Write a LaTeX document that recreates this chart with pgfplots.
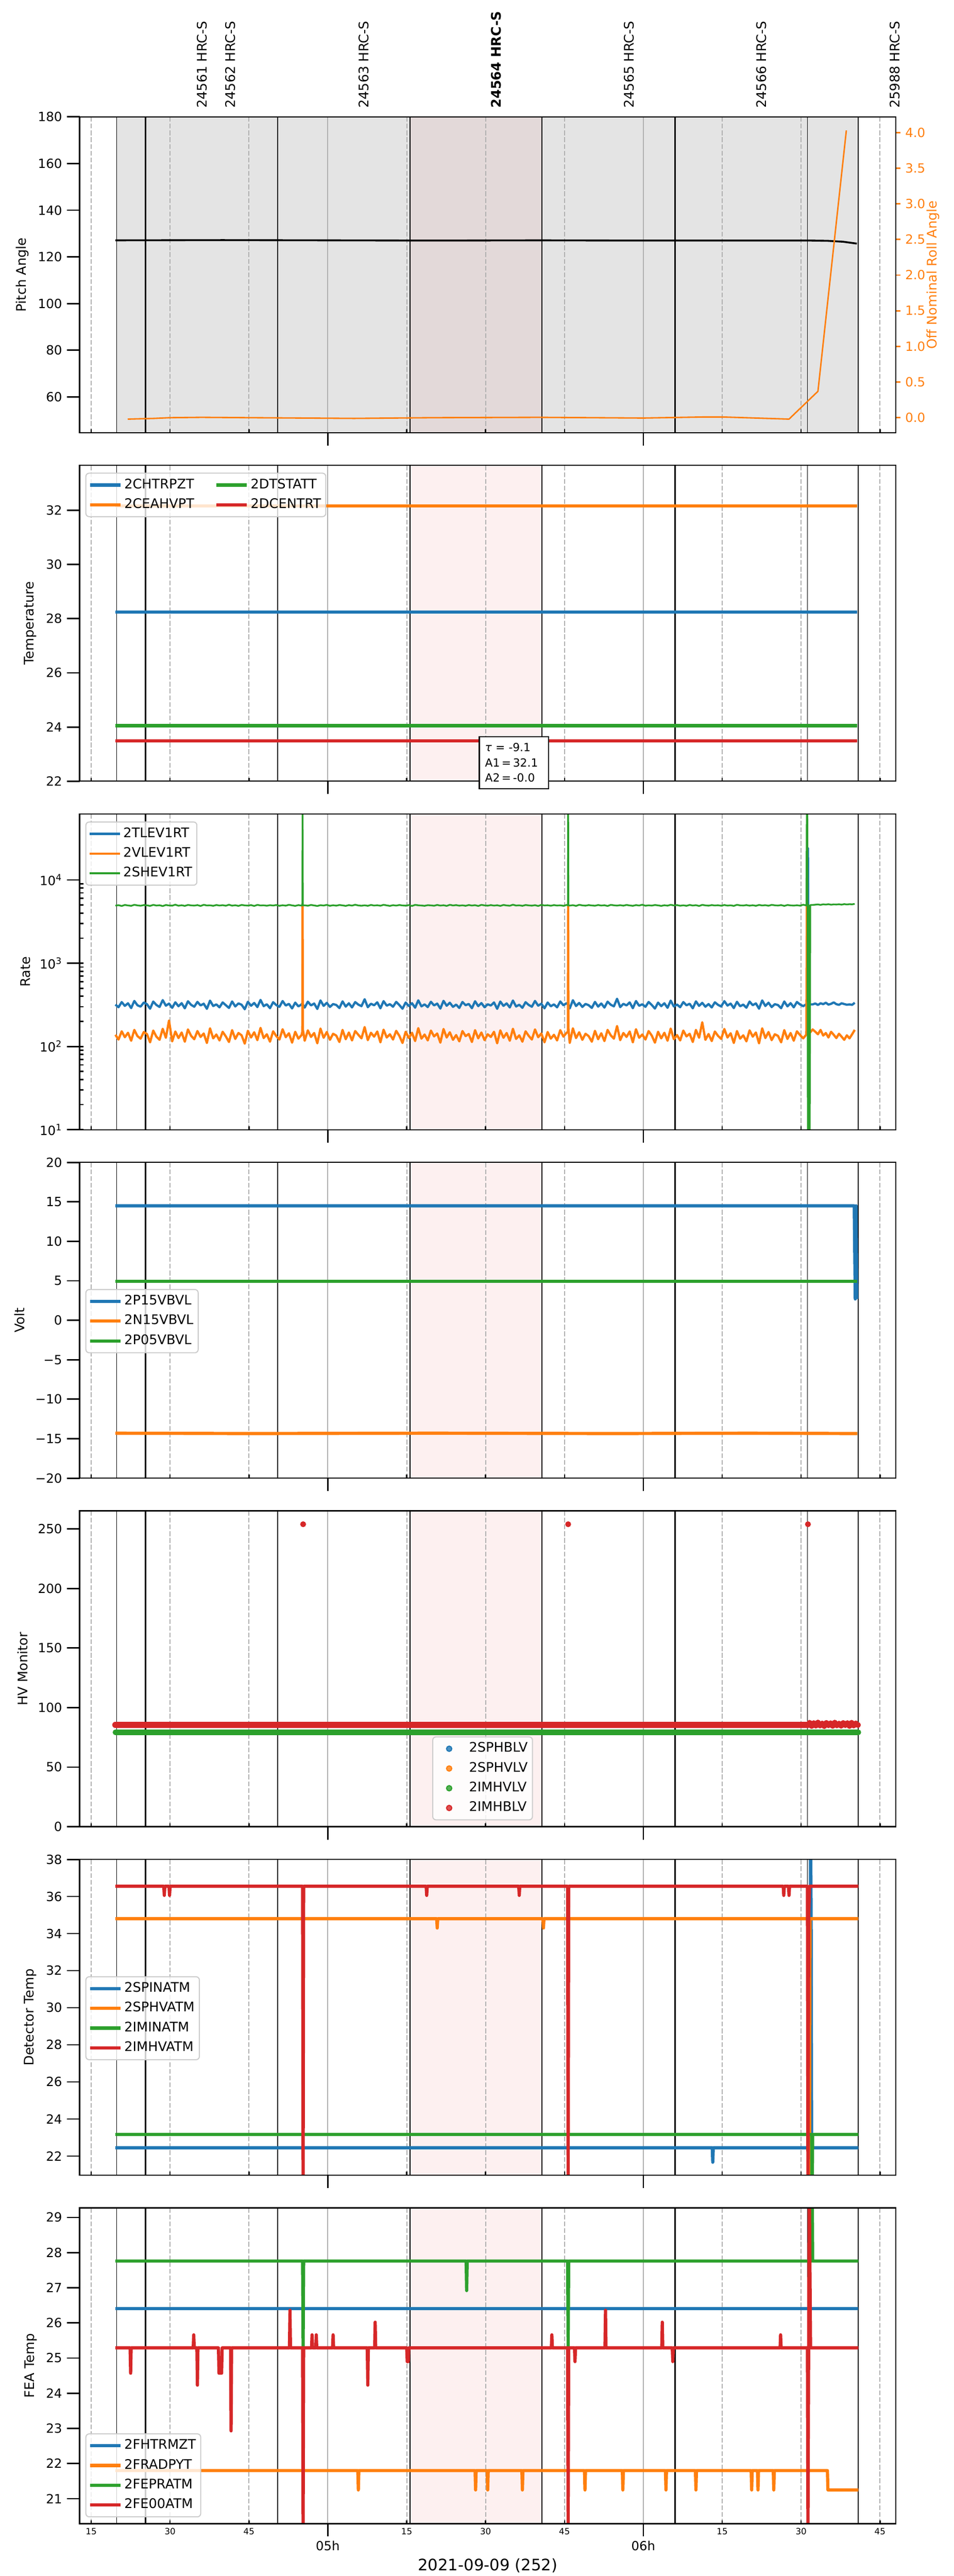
\documentclass[border=0pt]{standalone}
\usepackage{fontspec}
\setmainfont{DejaVu Sans}
\usepackage{pgfplots}
\pgfplotsset{compat=1.18}
\usepackage{pgfplotstable}

\definecolor{tblue}{HTML}{1F77B4}
\definecolor{torange}{HTML}{FF7F0E}
\definecolor{tgreen}{HTML}{2CA02C}
\definecolor{tred}{HTML}{D62728}
\definecolor{pinkbg}{RGB}{253,240,240}
\definecolor{graybg}{RGB}{228,228,228}
\definecolor{graypink}{RGB}{227,217,217}
\definecolor{gridc}{RGB}{176,176,176}

\pgfplotstableread{
x b o g
19.6 318 138 4920
20.2 296 121 4980
20.8 341 152 4870
21.4 307 129 5010
22.0 330 146 4940
22.6 289 117 4890
23.2 352 158 5030
23.8 312 133 4950
24.4 301 124 4900
25.0 337 149 4990
25.6 322 141 4960
26.2 284 112 4880
26.8 346 155 5020
27.4 315 131 4930
28.0 298 120 4970
28.6 360 163 4860
29.2 309 127 5000
29.8 327 205 4940
30.4 291 115 4910
31.0 339 151 5050
31.6 304 126 4900
32.2 331 147 4970
32.8 287 114 4880
33.4 349 160 5010
34.0 316 134 4950
34.6 300 122 4920
35.2 343 153 4990
35.8 311 130 4870
36.4 326 143 5030
37.0 283 110 4940
37.6 355 165 4960
38.2 306 125 4890
38.8 320 139 5000
39.4 295 118 4930
40.0 338 150 4980
40.6 313 132 4900
41.2 290 113 5040
41.8 347 157 4910
42.4 302 123 4970
43.0 329 145 4880
43.6 317 136 5010
44.2 280 108 4950
44.8 344 154 4920
45.4 308 128 4990
46.0 333 148 4870
46.6 297 119 5020
47.2 362 167 4940
47.8 305 126 4960
48.4 321 140 4900
49.0 288 114 4980
49.6 340 152 4930
50.2 314 133 5000
50.8 299 121 4890
51.4 351 161 4970
52.0 310 129 4910
52.6 325 144 5030
53.2 286 111 4950
53.8 336 150 4880
54.4 303 124 4990
55.0 319 137 4920
55.15 330 150 4950
55.2 345 5000 100000
55.25 320 160 4950
55.6 293 117 4960
56.2 345 156 4900
56.8 311 130 5010
57.4 328 145 4940
58.0 282 109 4870
58.6 357 164 4980
59.2 307 127 4930
59.8 334 149 5020
60.4 298 120 4890
61.0 323 142 4970
61.6 315 135 4910
62.2 289 113 5000
62.8 348 158 4950
63.4 301 122 4880
64.0 330 147 4990
64.6 294 118 4920
65.2 341 153 5040
65.8 318 138 4940
66.4 305 125 4900
67.0 369 171 4960
67.6 296 119 4890
68.2 326 146 5010
68.8 312 131 4930
69.4 339 151 4970
70.0 287 112 4900
70.6 350 159 5030
71.2 309 128 4950
71.8 322 140 4880
72.4 300 121 4980
73.0 343 154 4920
73.6 314 134 5000
74.2 284 110 4940
74.8 337 150 4910
75.4 306 126 4990
76.0 331 146 4870
76.6 292 116 5020
77.2 358 166 4960
77.8 303 124 4930
78.4 320 139 4890
79.0 297 118 4980
79.6 344 155 4950
80.2 311 132 4900
80.8 327 143 5010
81.4 285 111 4920
82.0 353 162 4970
82.6 308 128 4880
83.2 335 148 5030
83.8 299 120 4940
84.4 318 137 4990
85.0 290 115 4910
85.6 342 153 4960
86.2 313 133 4890
86.8 324 141 5000
87.4 288 113 4930
88.0 349 157 4980
88.6 305 125 4870
89.2 332 147 5020
89.8 296 119 4950
90.4 321 140 4910
91.0 310 130 4990
91.6 338 150 4920
92.2 283 109 4970
92.8 346 156 4880
93.4 307 127 5010
94.0 329 145 4940
94.6 294 117 4900
95.2 356 163 5040
95.8 302 123 4930
96.4 317 136 4960
97.0 291 114 4890
97.6 340 152 5000
98.2 315 134 4950
98.8 300 121 4910
99.4 352 160 4980
100.0 309 129 4870
100.6 326 143 5020
101.2 287 112 4940
101.8 337 149 4970
102.4 304 124 4900
103.0 320 138 4990
103.6 295 118 4930
104.2 347 157 4960
104.8 312 131 4890
105.4 331 146 5010
105.65 320 150 4950
105.7 340 5000 100000
105.75 318 165 4950
106.0 286 110 4920
106.6 359 165 4980
107.2 306 126 4880
107.8 333 148 5030
108.4 298 120 4950
109.0 324 142 4910
109.6 313 133 4990
110.2 290 114 4940
110.8 343 154 4900
111.4 301 122 5000
112.0 328 144 4930
112.6 293 116 4970
113.2 345 158 4870
113.8 317 136 5020
114.4 303 124 4960
115.0 374 176 4920
115.6 297 119 4980
116.2 325 145 4910
116.8 311 130 5010
117.4 338 151 4940
118.0 288 112 4890
118.6 351 161 4990
119.2 308 127 4930
119.8 321 139 5040
120.4 299 121 4900
121.0 342 153 4960
121.6 315 135 4920
122.2 285 111 5000
122.8 336 150 4950
123.4 305 125 4880
124.0 330 146 4970
124.6 291 117 4910
125.2 355 164 5030
125.8 302 122 4940
126.4 319 137 4990
127.0 296 118 4900
127.6 341 155 4960
128.2 312 132 4890
128.8 326 142 5010
129.4 287 113 4930
130.0 348 158 4980
130.6 307 127 4870
131.2 334 195 5020
131.8 300 120 4950
132.4 323 141 4910
133.0 294 116 4990
133.6 339 151 4940
134.2 316 134 4970
134.8 302 123 4900
135.4 350 162 5000
136.0 310 128 4920
136.6 327 144 4960
137.2 289 110 4880
137.8 344 153 5030
138.4 304 124 4950
139.0 318 136 4930
139.6 292 115 4990
140.2 346 156 4910
140.8 313 131 4970
141.4 329 147 4890
142.0 284 109 5010
142.6 357 165 4940
143.2 306 126 4980
143.8 335 149 4900
144.4 297 119 5020
145.0 322 140 4960
145.6 314 134 4930
146.2 288 112 4990
146.8 347 157 4880
147.4 303 123 5000
148.0 331 145 4950
148.6 295 117 4920
149.2 342 152 4970
149.8 319 137 4910
150.4 305 125 5040
151.0 321 139 4940
151.1 318 5000 100000
151.2 325 5000 50000
151.3 24000 145 1
151.45 322 150 5000
151.6 318 146 1
151.75 320 148 5000
152.2 320 160 5010
152.7 328 150 5050
153.2 315 140 5080
153.7 330 158 5020
154.2 322 135 5100
154.7 335 145 5060
155.2 318 128 5120
155.7 325 150 5040
156.2 338 138 5090
156.7 322 126 5070
157.2 316 142 5110
157.7 330 131 5050
158.2 323 120 5130
158.7 317 136 5080
159.2 320 125 5120
159.7 316 140 5100
160.2 335 158 5160
}\ratetable

\newcommand{\bgpink}{\fill[pinkbg] ({axis cs:75.65,1}|-{rel axis cs:0,0}) rectangle ({axis cs:100.75,1}|-{rel axis cs:0,1});}
\newcommand{\bggray}{%
 \fill[graybg] ({axis cs:19.85,1}|-{rel axis cs:0,0}) rectangle ({axis cs:160.85,1}|-{rel axis cs:0,1});
 \fill[graypink] ({axis cs:75.65,1}|-{rel axis cs:0,0}) rectangle ({axis cs:100.75,1}|-{rel axis cs:0,1});}
\newcommand{\gridlines}{%
 \pgfplotsinvokeforeach{15,30,45,75,90,105,135,150,165}{%
  \draw[gridc, line width=0.75bp, dash pattern=on 3.6bp off 1.5bp] ({axis cs:##1,1}|-{rel axis cs:0,0}) -- ({axis cs:##1,1}|-{rel axis cs:0,1});
  \draw[black, line width=1bp] ({axis cs:##1,1}|-{rel axis cs:0,0}) -- ++(0bp,2.6bp);}%
 \pgfplotsinvokeforeach{60,120}{%
  \draw[gridc, line width=0.75bp] ({axis cs:##1,1}|-{rel axis cs:0,0}) -- ({axis cs:##1,1}|-{rel axis cs:0,1});}%
}
\newcommand{\obslines}{%
 \pgfplotsinvokeforeach{19.85,151.2,160.85}{\draw[black, line width=0.5bp] ({axis cs:##1,1}|-{rel axis cs:0,0}) -- ({axis cs:##1,1}|-{rel axis cs:0,1});}%
 \pgfplotsinvokeforeach{50.5,75.65,100.75}{\draw[black, line width=0.75bp] ({axis cs:##1,1}|-{rel axis cs:0,0}) -- ({axis cs:##1,1}|-{rel axis cs:0,1});}%
 \pgfplotsinvokeforeach{25.35,126.05}{\draw[black, line width=1.3bp] ({axis cs:##1,1}|-{rel axis cs:0,0}) -- ({axis cs:##1,1}|-{rel axis cs:0,1});}%
}

\tikzset{obs/.style={rotate=90, anchor=west, inner sep=0pt, font=\fontsize{10}{12}\selectfont}}

\pgfplotsset{
  legend image code/.code={\draw[#1] (0bp,0bp) -- (23bp,0bp);},
  /pgf/number format/assume math mode=true,
  ylab/.style={every axis y label/.style={at={(rel axis cs:-#1,0.5)}, rotate=90, anchor=center, font=\fontsize{10}{12}\selectfont}},
  thk/.style={line width=2.4bp, line join=round},
  hrcbase/.style={
    anchor=north west,
    width=616bp, height=238.3bp, scale only axis,
    xmin=12.8, xmax=168,
    xtick={60,120}, xticklabels={},
    xtick pos=bottom, ytick pos=left,
    tick align=outside,
    major tick length=9.7bp,
    minor tick length=2.9bp,
    tick style={black, line width=1.1bp},
    axis line style={black, line width=0.9bp},
    tick label style={font=\fontsize{9.6}{11}\selectfont},
    clip mode=individual,
    axis on top,
    legend cell align=left,
    legend style={draw=black!20, line width=0.8bp, rounded corners=2.5bp, fill=white, fill opacity=0.8, text opacity=1,
      font=\fontsize{10}{12}\selectfont, inner xsep=2bp, inner ysep=2.5bp, row sep=2bp,
      nodes={inner sep=1.6bp, text height=7.4bp, text depth=2.3bp}},
  },
}

\begin{document}
\begin{tikzpicture}
\useasboundingbox (0,0) rectangle (720bp,-1944bp);

% ---------------- Panel 1: Pitch ----------------
\begin{axis}[hrcbase, at={(60.1bp,-88.2bp)}, ymin=44.7, ymax=180, ytick={60,80,...,180},
  ylabel={Pitch Angle}, ylab=0.0701]
\bggray
\gridlines
\obslines
\addplot[black, line width=1.4bp] coordinates {(19.6,127.1) (40,127.2) (60,127.1) (80,127.0) (100,127.1) (120,127.0) (140,127.0) (152,127.0) (155,126.9) (158,126.5) (160.6,125.7)};
\node[obs] at ([yshift=6.5bp]axis cs:36.1,180) {24561 HRC-S};
\node[obs] at ([yshift=6.5bp]axis cs:41.5,180) {24562 HRC-S};
\node[obs] at ([yshift=6.5bp]axis cs:66.8,180) {24563 HRC-S};
\node[obs, font=\fontsize{10}{12}\selectfont\bfseries] at ([yshift=6.5bp]axis cs:92.0,180) {24564 HRC-S};
\node[obs] at ([yshift=6.5bp]axis cs:117.3,180) {24565 HRC-S};
\node[obs] at ([yshift=6.5bp]axis cs:142.5,180) {24566 HRC-S};
\node[obs] at ([yshift=6.5bp]axis cs:167.8,180) {25988 HRC-S};
\end{axis}
\begin{axis}[anchor=north west, at={(60.1bp,-88.2bp)}, width=616bp, height=238.3bp, scale only axis,
  xmin=12.8, xmax=168, ymin=-0.21, ymax=4.22,
  axis x line=none, axis y line*=right,
  ytick={0,0.5,1,1.5,2,2.5,3,3.5,4},
  tick align=outside, major tick length=3.6bp,
  ytick style={torange, line width=1.1bp},
  yticklabel style={torange, font=\fontsize{9.6}{11}\selectfont, /pgf/number format/.cd, fixed, fixed zerofill, precision=1},
  axis line style={black, line width=0.9bp},
  clip mode=individual,
  ylabel={Off Nominal Roll Angle},
  every axis y label/.style={at={(rel axis cs:1.0456,0.5)}, rotate=90, anchor=center, text=torange, font=\fontsize{10}{12}\selectfont}]
\addplot[torange, line width=1.1bp, line join=round] coordinates {(21.95,-0.02) (27,-0.01) (30,0.0) (36,0.005) (45,0.0) (55,-0.005) (65,-0.01) (80,0.0) (100,0.005) (120,-0.005) (131.6,0.01) (135,0.01) (147.7,-0.02) (153.2,0.37) (158.6,4.03)};
\end{axis}

% ---------------- Panel 2: Temperature ----------------
\begin{axis}[hrcbase, at={(60.1bp,-351.2bp)}, ymin=22, ymax=33.66, ytick={22,24,...,32},
  ylabel={Temperature}, ylab=0.0602,
  legend columns=2, transpose legend,
  legend style={at={(0.007,0.977)}, anchor=north west, /tikz/column 2/.style={column sep=14bp}}]
\bgpink
\gridlines
\obslines
\addplot[tblue, thk] coordinates {(19.6,28.25) (160.7,28.25)};
\addlegendentry{2CHTRPZT}
\addplot[torange, thk] coordinates {(19.6,32.17) (160.7,32.17)};
\addlegendentry{2CEAHVPT}
\addplot[tgreen, thk] coordinates {(19.6,24.05) (160.7,24.05)};
\addlegendentry{2DTSTATT}
\addplot[tred, thk] coordinates {(19.6,23.49) (160.7,23.49)};
\addlegendentry{2DCENTRT}
\end{axis}
\node[draw=black, line width=1bp, fill=white, align=left, text width=43.6bp, inner xsep=4.3bp, inner ysep=5bp,
  font=\fontsize{8.5}{11.5}\selectfont] at (387.9bp,-575.6bp) {{\itshape τ} = -9.1\\A1\,=\,32.1\\A2\,=\,-0.0};

% ---------------- Panel 3: Rate ----------------
\begin{axis}[hrcbase, at={(60.1bp,-614.2bp)}, ymode=log, ymin=10, ymax=62230,
  ytick={10,100,1000,10000},
  yticklabels={10\textsuperscript{1},10\textsuperscript{2},10\textsuperscript{3},10\textsuperscript{4}},
  minor tick style={xshift=2.9bp},
  ylabel={Rate}, ylab=0.0666,
  legend style={at={(0.007,0.976)}, anchor=north west}]
\bgpink
\gridlines
\obslines
\addplot[tblue, line width=1.7bp, line join=round] table[x=x, y=b] {\ratetable};
\addlegendentry{2TLEV1RT}
\addplot[torange, line width=1.7bp, line join=round] table[x=x, y=o] {\ratetable};
\addlegendentry{2VLEV1RT}
\addplot[tgreen, line width=1.3bp, line join=round] table[x=x, y=g] {\ratetable};
\addlegendentry{2SHEV1RT}
\end{axis}

% ---------------- Panel 4: Volt ----------------
\begin{axis}[hrcbase, at={(60.1bp,-877.2bp)}, ymin=-20, ymax=20,
  ytick={-20,-15,-10,-5,0,5,10,15,20},
  yticklabels={−20,−15,−10,−5,0,5,10,15,20},
  ylabel={Volt}, ylab=0.0737,
  legend style={at={(0.007,0.599)}, anchor=north west}]
\bgpink
\gridlines
\obslines
\addplot[tblue, thk] coordinates {(19.6,14.5) (160.1,14.5) (160.3,2.7) (160.45,14.5) (160.6,2.7)};
\addlegendentry{2P15VBVL}
\addplot[torange, thk] coordinates {(19.6,-14.3) (45,-14.35) (80,-14.3) (115,-14.35) (140,-14.3) (160.7,-14.35)};
\addlegendentry{2N15VBVL}
\addplot[tgreen, thk] coordinates {(19.6,4.95) (160.7,4.95)};
\addlegendentry{2P05VBVL}
\end{axis}

% ---------------- Panel 5: HV Monitor ----------------
\begin{axis}[hrcbase, at={(60.1bp,-1140.2bp)}, ymin=0, ymax=265.2, ytick={0,50,...,250},
  ylabel={HV Monitor}, ylab=0.0701,
  legend image code/.code={\path (0bp,0bp) (23bp,0bp); \draw[#1] plot coordinates {(10bp,0bp)};},
  legend style={at={(0.432,0.286)}, anchor=north west}]
\bgpink
\gridlines
\obslines
\addlegendimage{only marks, mark=*, mark size=2bp, tblue, draw=tblue, fill=tblue}
\addlegendimage{only marks, mark=*, mark size=2bp, torange, draw=torange, fill=torange}
\addlegendimage{only marks, mark=*, mark size=2bp, tgreen, draw=tgreen, fill=tgreen}
\addlegendimage{only marks, mark=*, mark size=2bp, tred, draw=tred, fill=tred}
\legend{2SPHBLV,2SPHVLV,2IMHVLV,2IMHBLV}
\addplot[tgreen, line width=4.1bp, line cap=round, forget plot] coordinates {(19.6,79.3) (160.9,79.3)};
\addplot[tred, line width=4.7bp, line cap=round, forget plot] coordinates {(19.6,85.5) (151.3,85.5)};
\addplot[tred, only marks, mark=*, mark size=2bp, forget plot] coordinates {(151.6,87.2) (152.0,84.6) (152.4,86.9) (152.8,84.9) (153.2,87.4) (153.6,85.0) (154.0,86.6) (154.4,84.5) (154.8,87.1) (155.2,85.2) (155.6,86.8) (156.0,84.7) (156.4,87.3) (156.8,85.1) (157.2,86.5) (157.6,84.8) (158.0,87.0) (158.4,85.3) (158.8,86.9) (159.2,84.6) (159.6,87.2) (160.0,85.0) (160.4,86.7) (160.8,85.4) (55.3,254) (105.7,254) (151.3,254)};
\end{axis}

% ---------------- Panel 6: Detector Temp ----------------
\begin{axis}[hrcbase, at={(60.1bp,-1403.2bp)}, ymin=20.97, ymax=38, ytick={22,24,...,38},
  ylabel={Detector Temp}, ylab=0.0602,
  legend style={at={(0.007,0.630)}, anchor=north west}]
\bgpink
\gridlines
\obslines
\addplot[tblue, thk] coordinates {(19.6,22.45) (133.1,22.45) (133.2,21.67) (133.3,22.45) (151.7,22.45) (151.8,40) (151.9,35.0) (152.0,22.45) (160.9,22.45)};
\addlegendentry{2SPINATM}
\addplot[torange, thk] coordinates {(19.6,34.8) (80.7,34.8) (80.8,34.3) (80.9,34.8) (100.9,34.8) (101.0,34.3) (101.1,34.8) (151.5,34.8) (151.6,20) (151.7,34.8) (160.9,34.8)};
\addlegendentry{2SPHVATM}
\addplot[tgreen, thk] coordinates {(19.6,23.17) (152.0,23.17) (152.1,20) (152.2,23.17) (160.9,23.17)};
\addlegendentry{2IMINATM}
\addplot[tred, thk] coordinates {(19.6,36.55) (28.8,36.55) (28.9,36.06) (29.0,36.55) (29.8,36.55) (29.9,36.06) (30.0,36.55) (55.2,36.55) (55.3,20) (55.4,36.55) (78.7,36.55) (78.8,36.06) (78.9,36.55) (96.3,36.55) (96.4,36.06) (96.5,36.55) (105.6,36.55) (105.7,20) (105.8,36.55) (146.6,36.55) (146.7,36.06) (146.8,36.55) (147.6,36.55) (147.7,36.06) (147.8,36.55) (151.2,36.55) (151.3,20) (151.45,35.0) (151.6,36.55) (160.9,36.55)};
\addlegendentry{2IMHVATM}
\end{axis}

% ---------------- Panel 7: FEA Temp ----------------
\begin{axis}[hrcbase, at={(60.1bp,-1666.2bp)}, ymin=20.29, ymax=29.27, ytick={21,...,29},
  ylabel={FEA Temp}, ylab=0.0596,
  xticklabels={05h,06h},
  xticklabel style={font=\fontsize{9.5}{11}\selectfont},
  extra x ticks={15,30,45,75,90,105,135,150,165},
  extra x tick labels={15,30,45,15,30,45,15,30,45},
  extra x tick style={major tick length=0pt, xticklabel style={font=\fontsize{6.5}{8}\selectfont}},
  xlabel={2021-09-09 (252)},
  every axis x label/.style={at={(rel axis cs:0.5,0)}, anchor=center, yshift=-31.7bp, font=\fontsize{12}{14}\selectfont},
  legend style={at={(0.007,0.02)}, anchor=south west}]
\bgpink
\gridlines
\obslines
\addplot[tblue, thk] coordinates {(19.6,26.41) (160.9,26.41)};
\addlegendentry{2FHTRMZT}
\addplot[torange, thk] coordinates {(19.6,21.8) (65.7,21.8) (65.8,21.25) (65.9,21.8) (88.0,21.8) (88.1,21.25) (88.2,21.8) (90.3,21.8) (90.4,21.25) (90.5,21.8) (96.9,21.8) (97.0,21.25) (97.1,21.8) (108.8,21.8) (108.9,21.25) (109.0,21.8) (116.0,21.8) (116.1,21.25) (116.2,21.8) (124.2,21.8) (124.3,21.25) (124.4,21.8) (129.9,21.8) (130.0,21.25) (130.1,21.8) (140.5,21.8) (140.6,21.25) (140.7,21.8) (141.7,21.8) (141.8,21.25) (141.9,21.8) (144.7,21.8) (144.8,21.25) (144.9,21.8) (155.0,21.8) (155.1,21.25) (160.9,21.25)};
\addlegendentry{2FRADPYT}
\addplot[tgreen, thk] coordinates {(19.6,27.76) (55.2,27.76) (55.3,25.3) (55.4,27.76) (86.3,27.76) (86.4,26.92) (86.5,27.76) (105.6,27.76) (105.7,25.3) (105.8,27.76) (152.0,27.76) (152.1,30) (152.2,27.76) (160.9,27.76)};
\addlegendentry{2FEPRATM}
\addplot[tred, thk] coordinates {(19.6,25.29) (22.4,25.29) (22.5,24.57) (22.6,25.29) (34.4,25.29) (34.5,25.66) (34.6,25.29) (35.1,25.29) (35.2,24.23) (35.3,25.29) (39.2,25.29) (39.3,24.57) (39.8,24.57) (39.9,25.29) (41.5,25.29) (41.6,22.93) (41.7,25.29) (52.7,25.29) (52.8,26.36) (52.9,25.29) (55.2,25.29) (55.3,20) (55.4,25.29) (56.9,25.29) (57.0,25.66) (57.1,25.29) (57.7,25.29) (57.8,25.66) (57.9,25.29) (60.9,25.29) (61.0,25.66) (61.1,25.29) (67.5,25.29) (67.6,24.23) (67.7,25.29) (68.9,25.29) (69.0,26.02) (69.1,25.29) (75.0,25.29) (75.1,24.9) (75.3,24.9) (75.4,25.29) (102.5,25.29) (102.6,25.66) (102.7,25.29) (105.6,25.29) (105.7,20) (105.8,25.29) (106.9,25.29) (107.0,24.9) (107.1,25.29) (112.7,25.29) (112.8,26.36) (112.9,25.29) (123.5,25.29) (123.6,26.02) (123.7,25.29) (125.5,25.29) (125.6,24.9) (125.7,25.29) (146.0,25.29) (146.1,25.66) (146.2,25.29) (151.2,25.29) (151.3,20) (151.55,30) (151.8,25.29) (160.9,25.29)};
\addlegendentry{2FE00ATM}
\end{axis}
\end{tikzpicture}
\end{document}
